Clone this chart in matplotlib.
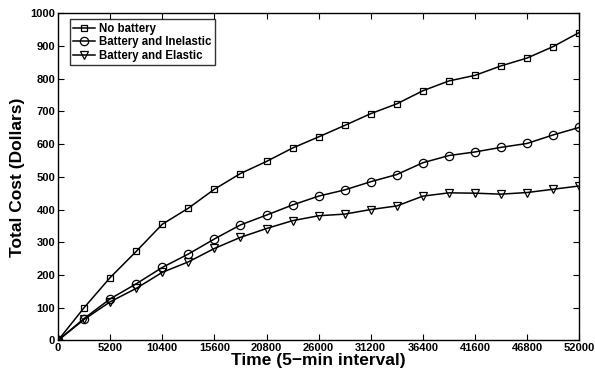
import numpy as np
import matplotlib as mpl
mpl.use('Agg')
import matplotlib.pyplot as plt

# ── data ─────────────────────────────────────────────────────────────────────
time = [0, 2600, 5200, 7800, 10400, 13000, 15600, 18200, 20800, 23400, 26000,
        28600, 31200, 33800, 36400, 39000, 41600, 44200, 46800, 49400, 52000]

no_battery = [0, 100, 192, 272, 355, 404, 462, 510, 547, 588, 622,
              657, 693, 723, 763, 793, 810, 839, 863, 898, 941]
batt_inelastic = [0, 67, 127, 173, 223, 264, 310, 353, 383, 414, 441,
                  460, 485, 507, 543, 565, 576, 590, 602, 628, 651]
batt_elastic = [0, 64, 118, 159, 208, 240, 281, 315, 342, 366, 381,
                386, 400, 411, 441, 451, 450, 447, 452, 462, 472]

x_ticks = [0, 5200, 10400, 15600, 20800, 26000, 31200, 36400, 41600, 46800, 52000]
y_ticks = [0, 100, 200, 300, 400, 500, 600, 700, 800, 900, 1000]

# ── style ────────────────────────────────────────────────────────────────────
mpl.rcParams.update({
    'font.family':       'Liberation Sans',
    'font.weight':       'bold',
    'xtick.direction':   'in',
    'ytick.direction':   'in',
    'xtick.top':         True,
    'ytick.right':       True,
    'xtick.labelsize':   8,
    'ytick.labelsize':   8,
    'axes.linewidth':    1.0,
    'xtick.major.size':  4,
    'ytick.major.size':  4,
})

fig = plt.figure(figsize=(5.95, 3.77), dpi=100)
ax = fig.add_axes([0.0975, 0.097, 0.876, 0.868])

LINE_KW = dict(color='black', lw=1.1, mfc='none', mec='black', mew=0.9)
ax.plot(time, no_battery, marker='s', ms=5, label='No battery', **LINE_KW)
ax.plot(time, batt_inelastic, marker='o', ms=6, label='Battery and Inelastic', **LINE_KW)
ax.plot(time, batt_elastic, marker='v', ms=6, label='Battery and Elastic', **LINE_KW)

ax.set_xlim(0, 52000)
ax.set_ylim(0, 1000)
ax.set_xticks(x_ticks)
ax.set_yticks(y_ticks)
ax.tick_params(pad=2)
for lab in ax.get_xticklabels() + ax.get_yticklabels():
    lab.set_fontweight('bold')

ax.set_xlabel('Time (5\u2212min interval)', fontsize=12.5, fontweight='bold', labelpad=0)
ax.set_ylabel('Total Cost (Dollars)', fontsize=12.5, fontweight='bold', labelpad=4)

leg = ax.legend(loc='upper left', bbox_to_anchor=(0.023, 0.982), fontsize=8.3,
                frameon=True, fancybox=False, edgecolor='black',
                handlelength=1.9, handletextpad=0.3, borderpad=0.3,
                labelspacing=0.15, borderaxespad=0.0)
leg.get_frame().set_linewidth(1.0)
for t in leg.get_texts():
    t.set_fontweight('bold')

fig.savefig('out.png', dpi=100)
